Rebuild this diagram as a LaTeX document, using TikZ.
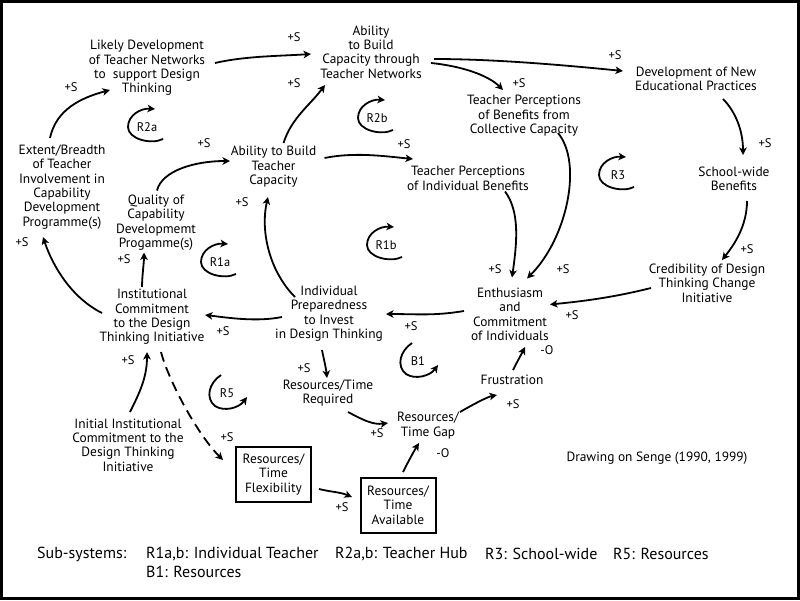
\documentclass[tikz,border=0pt]{standalone}
\usepackage{fontspec}
\setmainfont{PT Sans}
\usetikzlibrary{arrows.meta}
\begin{document}
\begin{tikzpicture}[x=1pt,y=-1pt,
  lbl/.style={font=\fontsize{13.4}{14.4}\selectfont, align=center, inner sep=0pt},
  sgn/.style={font=\fontsize{12.5}{13}\selectfont, inner sep=0pt},
  tip/.style={-{Stealth[length=7.5pt,width=7.5pt,inset=2pt]}},
  conn/.style={line width=1.8pt, tip},
  dconn/.style={conn, dash pattern=on 10pt off 6pt},
  boxnode/.style={lbl, draw, line width=2pt, minimum width=75pt, minimum height=55pt},
  loopcw/.pic={\draw[conn] (16,12) .. controls (4,18) and (-19,12) .. (-19,0) .. controls (-19,-12) and (-6,-19) .. (8,-18);},
  loopccw/.pic={\draw[conn] (-6,-18) .. controls (-18,-10) and (-22,5) .. (-12,13) .. controls (-3,19) and (12,15) .. (20,4);},
  subs/.style={font=\fontsize{16}{18}\selectfont, inner sep=0pt, anchor=west}
]
\useasboundingbox (0,0) rectangle (800,600);
\fill[white] (0,0) rectangle (800,600);
\draw[line width=3pt] (1.5,1.5) rectangle (798.5,598.5);

% nodes
\node[lbl] (likely) at (147,68) {Likely Development\\of Teacher Networks\\to\ \ support Design\\Thinking};
\node[lbl] (abnet) at (371,52) {Ability\\to Build\\Capacity through\\Teacher Networks};
\node[lbl] (devnew) at (696,79) {Development of New\\Educational Practices};
\node[lbl] (tpcoll) at (524,116) {Teacher Perceptions\\of Benefits from\\Collective Capacity};
\node[lbl] (school) at (734,179) {School-wide\\Benefits};
\node[lbl] (ext) at (62,187) {Extent/Breadth\\of Teacher\\Involvement in\\Capability\\Development\\Programme(s)};
\node[lbl] (abteach) at (273.5,167) {Ability to Build\\Teacher\\Capacity};
\node[lbl] (tpind) at (468,178.5) {Teacher Perceptions\\of Individual Benefits};
\node[lbl] (quality) at (156,222.5) {Quality of\\Capability\\Developmemt\\Progamme(s)};
\node[lbl] (cred) at (707,283) {Credibility of Design\\Thinking Change\\Initiative};
\node[lbl] (inst) at (152,317) {Institutional\\Commitment\\to the Design\\Thinking Initiative};
\node[lbl] (prep) at (329,313.5) {Individual\\Preparedness\\to Invest\\in Design Thinking};
\node[lbl] (enth) at (510,314.5) {Enthusiasm\\and\\Commitment\\of Individuals};
\node[lbl] (frust) at (512,380) {Frustration};
\node[lbl] (rtreq) at (328,393) {Resources/Time\\Required};
\node[lbl] (gap) at (428,425.5) {Resources/\\Time Gap};
\node[lbl] (initial) at (128,445) {Initial Institutional\\Commitment to the\\Design Thinking\\Initiative};
\node[boxnode] (flex) at (273.5,474.5) {Resources/\\Time\\Flexibility};
\node[boxnode] (avail) at (398,505) {Resources/\\Time\\Available};
\node[lbl] (senge) at (657,458) {Drawing on Senge (1990, 1999)};

% loop markers
\node[sgn] (r2a) at (147,127) {R2a};
\node[sgn] (r2b) at (377,118) {R2b};
\node[sgn] (r3) at (618,175) {R3};
\node[sgn] (r1b) at (386,245) {R1b};
\node[sgn] (r1a) at (220,262) {R1a};
\node[sgn] (b1) at (418,361) {B1};
\node[sgn] (r5) at (227,393) {R5};
\pic at (r2a) {loopcw};
\pic at (r2b) {loopcw};
\pic at (r3) {loopcw};
\pic at (r1b) {loopcw};
\pic at (r1a) {loopcw};
\pic at (b1) {loopccw};
\pic at (r5) {loopccw};

% connectors
\draw[conn] ([shift={(-12,-49)}]ext.center) .. controls +(6,-28) and +(-30,8) .. ([shift={(-37,22)}]likely.center);
\draw[conn] ([shift={(68,-5)}]likely.center) .. controls +(30,-7) and +(-30,2) .. ([shift={(-60,2)}]abnet.center);
\draw[conn] ([shift={(63,7)}]abnet.center) .. controls +(60,0) and +(-60,-6) .. ([shift={(-73,-8)}]devnew.center);
\draw[conn] ([shift={(60,11)}]abnet.center) .. controls +(30,3) and +(-15,-15) .. ([shift={(-21,-26)}]tpcoll.center);
\draw[conn] ([shift={(27,20)}]devnew.center) .. controls +(12,12) and +(0,-25) .. ([shift={(9,-24)}]school.center);
\draw[conn] ([shift={(13,22)}]school.center) .. controls +(0,25) and +(12,-15) .. ([shift={(15,-23)}]cred.center);
\draw[conn] ([shift={(-56,5)}]cred.center) .. controls +(-40,10) and +(30,-3) .. ([shift={(40,-10)}]enth.center);
\draw[conn] ([shift={(34,17)}]tpcoll.center) .. controls +(25,30) and +(40,-40) .. ([shift={(17,-36)}]enth.center);
\draw[conn] ([shift={(37,13)}]tpind.center) .. controls +(15,20) and +(5,-35) .. ([shift={(2,-37)}]enth.center);
\draw[conn] ([shift={(10,-24)}]abteach.center) .. controls +(8,-25) and +(-15,20) .. ([shift={(-46,33)}]abnet.center);
\draw[conn] ([shift={(51,-9)}]abteach.center) .. controls +(30,-6) and +(-30,-3) .. ([shift={(-55,-19.5)}]tpind.center);
\draw[conn] ([shift={(1,-32)}]quality.center) .. controls +(5,-20) and +(-35,0) .. ([shift={(-43.5,-6)}]abteach.center);
\draw[conn] ([shift={(-34,-16.5)}]prep.center) .. controls +(-25,-25) and +(-8,35) .. ([shift={(-5.5,30)}]abteach.center);
\draw[conn] ([shift={(-10,-30)}]inst.center) .. controls +(0,-10) and +(0,10) .. ([shift={(-12,30)}]quality.center);
\draw[conn] ([shift={(-50,-4)}]inst.center) .. controls +(-30,-15) and +(10,30) .. ([shift={(-19,50)}]ext.center);
\draw[conn] ([shift={(-46,-3.5)}]enth.center) .. controls +(-30,5) and +(30,0) .. ([shift={(57,0.5)}]prep.center);
\draw[conn] ([shift={(-47,3.5)}]prep.center) .. controls +(-25,5) and +(25,3) .. ([shift={(53,-2)}]inst.center);
\draw[conn] ([shift={(-7,36.5)}]prep.center) .. controls +(2,10) and +(-1,-10) .. ([shift={(-1,-15)}]rtreq.center);
\draw[conn] ([shift={(2,-33)}]initial.center) .. controls +(10,-20) and +(0,25) .. ([shift={(-5,35)}]inst.center);
\draw[dconn] ([shift={(9,35)}]inst.center) .. controls +(8,30) and +(-25,-25) .. ([shift={(-50.5,-14.5)}]flex.center);
\draw[conn] ([shift={(20,19)}]rtreq.center) .. controls +(15,8) and +(-15,2) .. ([shift={(-40,-2.5)}]gap.center);
\draw[conn] ([shift={(45.5,14.5)}]flex.center) .. controls +(12,3) and +(-12,-5) .. ([shift={(-46,-8)}]avail.center);
\draw[conn] ([shift={(5,-33)}]avail.center) .. controls +(5,-10) and +(-5,8) .. ([shift={(-9,17.5)}]gap.center);
\draw[conn] ([shift={(32,-13.5)}]gap.center) .. controls +(12,-7) and +(-10,2) .. ([shift={(-15,15)}]frust.center);
\draw[conn] ([shift={(1,-10)}]frust.center) .. controls +(4,-8) and +(-3,6) .. ([shift={(15,32.5)}]enth.center);

% polarity labels
\node[sgn] (s1) at (71,87) {+S};
\node[sgn] (s2) at (294,37) {+S};
\node[sgn] (s3) at (615,55) {+S};
\node[sgn] (s4) at (519,83) {+S};
\node[sgn] (s5) at (765,143) {+S};
\node[sgn] (s6) at (747,249) {+S};
\node[sgn] (s7) at (572,315) {+S};
\node[sgn] (s8) at (563,269) {+S};
\node[sgn] (s9) at (495,269) {+S};
\node[sgn] (s10) at (294,83) {+S};
\node[sgn] (s11) at (404,144) {+S};
\node[sgn] (s12) at (204,143) {+S};
\node[sgn] (s13) at (242,202) {+S};
\node[sgn] (s14) at (124,259) {+S};
\node[sgn] (s15) at (22,242) {+S};
\node[sgn] (s16) at (411,326) {+S};
\node[sgn] (s17) at (223,331) {+S};
\node[sgn] (s18) at (304,368) {+S};
\node[sgn] (s19) at (128,360) {+S};
\node[sgn] (s20) at (227,437) {+S};
\node[sgn] (s21) at (377,433) {+S};
\node[sgn] (s22) at (342,507) {+S};
\node[sgn] (o23) at (443,453) {-O};
\node[sgn] (s24) at (513,404) {+S};
\node[sgn] (o25) at (547,350) {-O};

% legend
\node[subs] (subsys) at (37,554) {Sub-systems:};
\node[subs] (leg1) at (146,554) {R1a,b: Individual Teacher};
\node[subs] (leg2) at (335,554) {R2a,b: Teacher Hub};
\node[subs] (leg3) at (485,554) {R3: School-wide};
\node[subs] (leg4) at (613,554) {R5: Resources};
\node[subs] (leg5) at (146,572) {B1: Resources};
\end{tikzpicture}
\end{document}
